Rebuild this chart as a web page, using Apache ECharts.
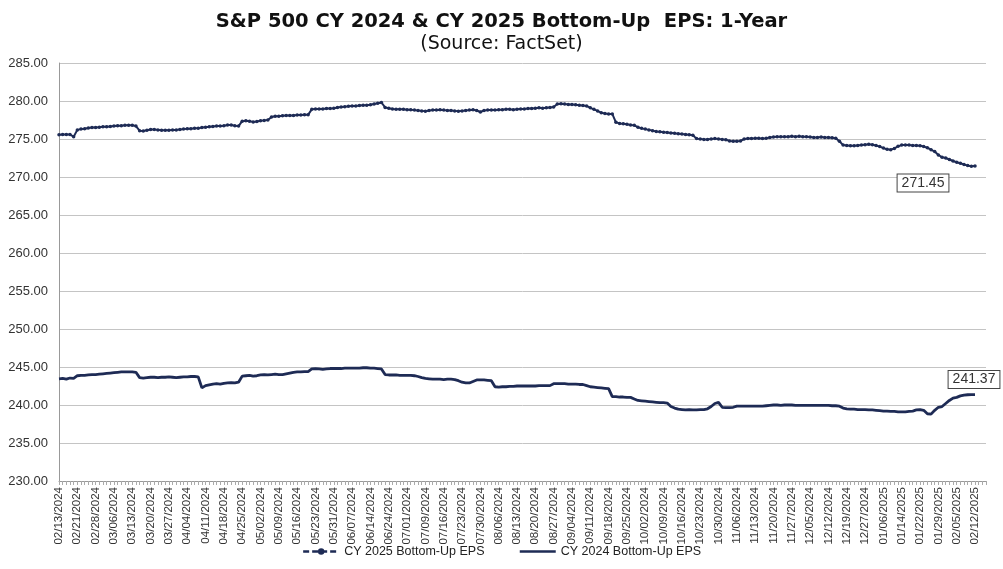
<!DOCTYPE html>
<html>
<head>
<meta charset="utf-8">
<script src="https://cdn.jsdelivr.net/npm/echarts@6.0.0/dist/echarts.min.js"></script>
<style>
html,body{margin:0;padding:0;background:#fff;}
#chart{width:1003px;height:569px;}
</style>
</head>
<body>
<div id="chart"></div>
<script>
const categories = [
"02/13/2024","02/14/2024","02/15/2024","02/16/2024","02/20/2024","02/21/2024","02/22/2024","02/23/2024","02/26/2024","02/27/2024","02/28/2024","02/29/2024",
"03/01/2024","03/04/2024","03/05/2024","03/06/2024","03/07/2024","03/08/2024","03/11/2024","03/12/2024","03/13/2024","03/14/2024","03/15/2024","03/18/2024","03/19/2024","03/20/2024","03/21/2024","03/22/2024","03/25/2024","03/26/2024","03/27/2024","03/28/2024",
"04/01/2024","04/02/2024","04/03/2024","04/04/2024","04/05/2024","04/08/2024","04/09/2024","04/10/2024","04/11/2024","04/12/2024","04/15/2024","04/16/2024","04/17/2024","04/18/2024","04/19/2024","04/22/2024","04/23/2024","04/24/2024","04/25/2024","04/26/2024","04/29/2024","04/30/2024",
"05/01/2024","05/02/2024","05/03/2024","05/06/2024","05/07/2024","05/08/2024","05/09/2024","05/10/2024","05/13/2024","05/14/2024","05/15/2024","05/16/2024","05/17/2024","05/20/2024","05/21/2024","05/22/2024","05/23/2024","05/24/2024","05/28/2024","05/29/2024","05/30/2024","05/31/2024",
"06/03/2024","06/04/2024","06/05/2024","06/06/2024","06/07/2024","06/10/2024","06/11/2024","06/12/2024","06/13/2024","06/14/2024","06/17/2024","06/18/2024","06/20/2024","06/21/2024","06/24/2024","06/25/2024","06/26/2024","06/27/2024","06/28/2024",
"07/01/2024","07/02/2024","07/03/2024","07/05/2024","07/08/2024","07/09/2024","07/10/2024","07/11/2024","07/12/2024","07/15/2024","07/16/2024","07/17/2024","07/18/2024","07/19/2024","07/22/2024","07/23/2024","07/24/2024","07/25/2024","07/26/2024","07/29/2024","07/30/2024","07/31/2024",
"08/01/2024","08/02/2024","08/05/2024","08/06/2024","08/07/2024","08/08/2024","08/09/2024","08/12/2024","08/13/2024","08/14/2024","08/15/2024","08/16/2024","08/19/2024","08/20/2024","08/21/2024","08/22/2024","08/23/2024","08/26/2024","08/27/2024","08/28/2024","08/29/2024","08/30/2024",
"09/03/2024","09/04/2024","09/05/2024","09/06/2024","09/09/2024","09/10/2024","09/11/2024","09/12/2024","09/13/2024","09/16/2024","09/17/2024","09/18/2024","09/19/2024","09/20/2024","09/23/2024","09/24/2024","09/25/2024","09/26/2024","09/27/2024","09/30/2024",
"10/01/2024","10/02/2024","10/03/2024","10/04/2024","10/07/2024","10/08/2024","10/09/2024","10/10/2024","10/11/2024","10/14/2024","10/15/2024","10/16/2024","10/17/2024","10/18/2024","10/21/2024","10/22/2024","10/23/2024","10/24/2024","10/25/2024","10/28/2024","10/29/2024","10/30/2024","10/31/2024",
"11/01/2024","11/04/2024","11/05/2024","11/06/2024","11/07/2024","11/08/2024","11/11/2024","11/12/2024","11/13/2024","11/14/2024","11/15/2024","11/18/2024","11/19/2024","11/20/2024","11/21/2024","11/22/2024","11/25/2024","11/26/2024","11/27/2024","11/29/2024",
"12/02/2024","12/03/2024","12/04/2024","12/05/2024","12/06/2024","12/09/2024","12/10/2024","12/11/2024","12/12/2024","12/13/2024","12/16/2024","12/17/2024","12/18/2024","12/19/2024","12/20/2024","12/23/2024","12/24/2024","12/26/2024","12/27/2024","12/30/2024","12/31/2024",
"01/02/2025","01/03/2025","01/06/2025","01/07/2025","01/08/2025","01/10/2025","01/13/2025","01/14/2025","01/15/2025","01/16/2025","01/17/2025","01/21/2025","01/22/2025","01/23/2025","01/24/2025","01/27/2025","01/28/2025","01/29/2025","01/30/2025","01/31/2025",
"02/03/2025","02/04/2025","02/05/2025","02/06/2025","02/07/2025","02/10/2025","02/11/2025","02/12/2025","02/13/2025","02/14/2025","02/18/2025"
];

const cy2025 = [
275.55,275.60,275.60,275.58,275.30,276.20,276.30,276.35,276.45,276.50,
276.50,276.55,276.60,276.60,276.65,276.70,276.75,276.75,276.80,276.80,
276.80,276.70,276.10,276.05,276.15,276.25,276.25,276.20,276.15,276.15,
276.15,276.20,276.20,276.25,276.30,276.35,276.35,276.40,276.40,276.50,
276.55,276.60,276.65,276.70,276.70,276.75,276.85,276.85,276.75,276.70,
277.35,277.40,277.35,277.25,277.30,277.40,277.45,277.50,277.90,278.00,
278.00,278.05,278.10,278.10,278.10,278.15,278.15,278.20,278.20,278.90,
278.95,278.95,278.95,279.00,279.00,279.05,279.15,279.20,279.25,279.30,
279.35,279.35,279.40,279.45,279.45,279.50,279.60,279.70,279.80,279.15,
279.05,278.95,278.90,278.90,278.90,278.85,278.85,278.80,278.75,278.70,
278.65,278.75,278.80,278.80,278.85,278.80,278.75,278.75,278.70,278.65,
278.70,278.75,278.80,278.85,278.75,278.55,278.75,278.80,278.80,278.80,
278.85,278.85,278.90,278.90,278.85,278.90,278.95,278.95,279.00,279.00,
279.05,279.10,279.05,279.10,279.15,279.20,279.60,279.65,279.60,279.55,
279.55,279.50,279.45,279.40,279.35,279.10,278.90,278.70,278.45,278.35,
278.30,278.30,277.20,277.05,277.00,276.95,276.85,276.80,276.55,276.40,
276.30,276.20,276.10,276.00,275.95,275.90,275.85,275.80,275.75,275.70,
275.65,275.60,275.55,275.50,275.05,275.00,274.95,274.95,275.00,275.05,
275.00,274.95,274.90,274.75,274.70,274.70,274.75,275.00,275.05,275.05,
275.10,275.10,275.05,275.10,275.20,275.25,275.30,275.30,275.30,275.30,
275.35,275.30,275.35,275.30,275.30,275.25,275.20,275.20,275.25,275.20,
275.20,275.15,275.10,274.70,274.20,274.15,274.10,274.10,274.15,274.20,
274.25,274.30,274.25,274.15,274.00,273.80,273.65,273.60,273.75,274.05,
274.20,274.20,274.20,274.15,274.15,274.10,274.00,273.85,273.60,273.35,
272.90,272.60,272.50,272.30,272.10,271.95,271.80,271.65,271.50,271.40,
271.45
];

const cy2024 = [
243.45,243.50,243.40,243.55,243.50,243.85,243.90,243.90,243.95,244.00,
244.00,244.05,244.10,244.15,244.20,244.25,244.30,244.35,244.35,244.35,
244.35,244.30,243.60,243.55,243.60,243.65,243.65,243.60,243.65,243.65,
243.70,243.65,243.60,243.65,243.70,243.70,243.75,243.75,243.70,242.25,
242.55,242.65,242.75,242.80,242.75,242.85,242.90,242.95,242.90,243.00,
243.80,243.85,243.90,243.80,243.85,243.95,244.00,243.95,244.00,244.05,
244.00,244.00,244.10,244.20,244.30,244.35,244.35,244.40,244.40,244.75,
244.80,244.75,244.70,244.75,244.80,244.80,244.80,244.80,244.85,244.85,
244.85,244.85,244.85,244.90,244.90,244.85,244.85,244.80,244.75,244.00,
243.95,243.95,243.95,243.90,243.90,243.90,243.90,243.85,243.75,243.60,
243.50,243.45,243.40,243.40,243.40,243.35,243.40,243.40,243.35,243.20,
243.00,242.90,242.90,243.10,243.30,243.30,243.30,243.25,243.20,242.40,
242.35,242.40,242.40,242.45,242.45,242.50,242.50,242.50,242.50,242.50,
242.50,242.55,242.55,242.55,242.55,242.80,242.80,242.80,242.80,242.75,
242.75,242.75,242.70,242.70,242.55,242.40,242.35,242.30,242.25,242.20,
242.15,241.10,241.10,241.05,241.05,241.00,241.00,240.80,240.60,240.55,
240.50,240.45,240.40,240.35,240.30,240.30,240.25,239.80,239.60,239.45,
239.40,239.35,239.40,239.35,239.35,239.40,239.40,239.50,239.80,240.20,
240.35,239.70,239.65,239.65,239.70,239.85,239.85,239.85,239.85,239.85,
239.85,239.85,239.85,239.90,239.95,240.00,240.00,239.95,240.00,240.00,
240.00,239.95,239.95,239.95,239.95,239.95,239.95,239.95,239.95,239.95,
239.95,239.90,239.90,239.85,239.60,239.50,239.45,239.45,239.40,239.40,
239.40,239.35,239.35,239.30,239.25,239.20,239.20,239.15,239.15,239.10,
239.10,239.10,239.15,239.20,239.35,239.40,239.30,238.85,238.80,239.30,
239.70,239.80,240.20,240.60,240.90,241.00,241.20,241.30,241.35,241.37,
241.37
];

const yMin = 230, yMax = 285, yStep = 5;
const titleText = "S&P 500 CY 2024 & CY 2025 Bottom-Up  EPS: 1-Year";
const subtitleText = "(Source: FactSet)";
const name2025 = "CY 2025 Bottom-Up EPS";
const name2024 = "CY 2024 Bottom-Up EPS";

const navy = "#1e2b55";
const font = "'Liberation Sans', Arial, sans-serif";
const wideFont = "'DejaVu Sans', 'Liberation Sans', sans-serif";
const last2025 = cy2025.length - 1;
const last2024 = cy2024.length - 1;

const boxLabel = {
  show: true,
  position: 'inside',
  color: '#333',
  fontSize: 14,
  fontFamily: font,
  backgroundColor: '#fff',
  borderColor: '#444',
  borderWidth: 1,
  padding: [2, 4, 1, 4],
  formatter: p => Number(p.value).toFixed(2)
};

const chart = echarts.init(document.getElementById('chart'), null, {renderer: 'canvas'});
chart.setOption({
  animation: false,
  backgroundColor: '#fff',
  title: [
    {text: titleText, left: 'center', top: 7, textStyle: {fontFamily: wideFont, fontSize: 19.5, fontWeight: 'bold', color: '#111'}},
    {text: subtitleText, left: 'center', top: 30, textStyle: {fontFamily: wideFont, fontSize: 19, fontWeight: 'normal', color: '#111'}}
  ],
  legend: {
    bottom: 6,
    left: 'center',
    itemGap: 34,
    itemWidth: 36,
    itemHeight: 8,
    textStyle: {fontFamily: font, fontSize: 12.5, color: '#222'},
    data: [
      {name: name2025, itemStyle: {color: navy}, lineStyle: {type: [6, 3], width: 2.5, color: navy}},
      {name: name2024, itemStyle: {color: 'rgba(0,0,0,0)', borderWidth: 0, opacity: 0}, lineStyle: {type: 'solid', width: 2.5, color: navy, opacity: 1}}
    ]
  },
  grid: {left: 59, right: 17, top: 63, bottom: 88, containLabel: false},
  xAxis: {
    type: 'category',
    data: categories,
    boundaryGap: false,
    axisLine: {lineStyle: {color: '#999', width: 1}},
    axisTick: {show: true, interval: 0, length: 4, lineStyle: {color: '#aaa'}},
    axisLabel: {interval: 4, rotate: 90, fontFamily: font, fontSize: 11.5, color: '#333', margin: 6},
    splitLine: {show: false}
  },
  yAxis: {
    type: 'value',
    min: yMin, max: yMax, interval: yStep,
    axisLine: {show: true, lineStyle: {color: '#999'}},
    axisTick: {show: false},
    axisLabel: {fontFamily: font, fontSize: 13, color: '#333', margin: 11, formatter: v => v.toFixed(2)},
    splitLine: {lineStyle: {color: '#c4c4c4', width: 1}}
  },
  series: [
    {
      name: name2025,
      type: 'line',
      data: cy2025,
      showSymbol: true,
      showAllSymbol: true,
      symbol: 'circle',
      symbolSize: 3.5,
      itemStyle: {color: navy},
      lineStyle: {color: navy, width: 2},
      markPoint: {
        symbol: 'circle', symbolSize: 1,
        itemStyle: {color: 'rgba(0,0,0,0)'},
        label: Object.assign({}, boxLabel, {offset: [-52, 17]}),
        data: [{coord: [last2025, cy2025[last2025]], value: cy2025[last2025]}]
      }
    },
    {
      name: name2024,
      type: 'line',
      data: cy2024,
      showSymbol: false,
      symbol: 'none',
      itemStyle: {color: navy},
      lineStyle: {color: navy, width: 2.8},
      markPoint: {
        symbol: 'circle', symbolSize: 1,
        itemStyle: {color: 'rgba(0,0,0,0)'},
        label: Object.assign({}, boxLabel, {offset: [-1, -15]}),
        data: [{coord: [last2024, cy2024[last2024]], value: cy2024[last2024]}]
      }
    }
  ]
});
</script>
</body>
</html>
